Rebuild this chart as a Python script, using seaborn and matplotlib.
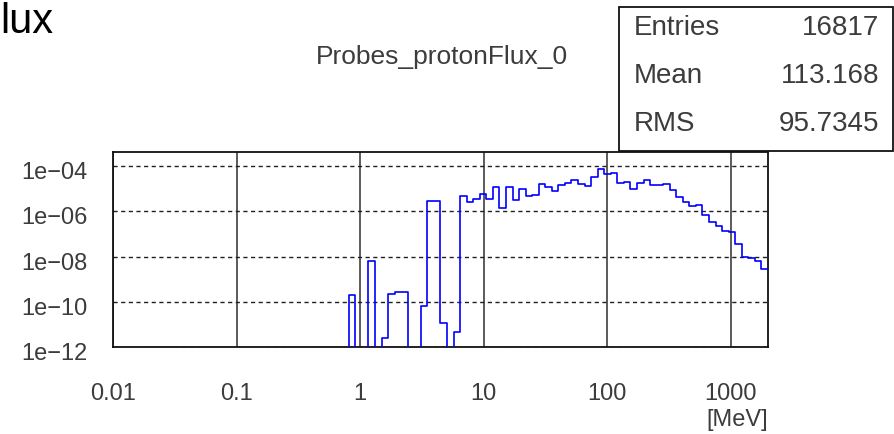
import numpy as np
import pandas as pd
import matplotlib
matplotlib.use("Agg")
import matplotlib.pyplot as plt
import matplotlib.transforms as mtransforms
import seaborn as sns
from matplotlib.patches import Rectangle

# histogram binning (log spaced)
e_min, e_max, n_bins = 0.01, 2000.0, 100

# bin contents, 0 = empty bin
flux = [0.0] * 36 + [
    1.9e-10, 0.0, 0.0, 6.3e-9, 0.0, 2.6e-12, 2.2e-10, 2.8e-10, 2.8e-10, 0.0,
    0.0, 6.6e-11, 2.9e-6, 2.9e-6, 1.1e-11, 0.0, 4.4e-12, 4.9e-6, 2.6e-6, 3.6e-6,
    5.6e-6, 3.5e-6, 1.2e-5, 1.4e-6, 1.2e-5, 3.2e-6, 9.8e-6, 4.9e-6, 5.2e-6, 1.55e-5,
    1.2e-5, 7.6e-6, 1.4e-5, 1.8e-5, 2.5e-5, 1.6e-5, 1.3e-5, 3.4e-5, 7.1e-5, 4.6e-5,
    5.2e-5, 1.7e-5, 2.0e-5, 1.0e-5, 1.8e-5, 2.4e-5, 1.45e-5, 1.45e-5, 1.6e-5, 9.1e-6,
    4.4e-6, 2.6e-6, 1.8e-6, 2.0e-6, 6.7e-7, 3.3e-7, 2.2e-7, 1.4e-7, 1.2e-7, 3.6e-8,
    9.3e-9, 8.3e-9, 6.6e-9, 2.7e-9,
]

x_ticks = [0.01, 0.1, 1, 10, 100, 1000]
x_labels = ["0.01", "0.1", "1", "10", "100", "1000"]
y_ticks = [1e-12, 1e-10, 1e-8, 1e-6, 1e-4]
y_labels = ["1e\u221212", "1e\u221210", "1e\u221208", "1e\u221206", "1e\u221204"]

stat_names = ["Entries", "Mean", "RMS"]
stat_values = ["16817", "113.168", "95.7345"]

hist_name = "Probes_protonFlux_0"

sns.set_style("white")
plt.rcParams["font.family"] = ["Liberation Sans", "DejaVu Sans"]
txt_col = "#3c3c3c"

W, H = 895, 434
fig = plt.figure(figsize=(W / 100, H / 100), dpi=100)
ax = fig.add_axes([113 / W, 1 - 347 / H, (768 - 113) / W, (347 - 152) / H])

edges = np.logspace(np.log10(e_min), np.log10(e_max), n_bins + 1)
df = pd.DataFrame({"E": edges, "flux": flux + [flux[-1]]})
sns.lineplot(data=df, x="E", y="flux", drawstyle="steps-post", color="#0000ff",
             lw=1.2, sort=False, estimator=None, ax=ax, zorder=3)

ax.set_xscale("log")
ax.set_yscale("log")
ax.set_xlim(e_min, e_max)
ax.set_ylim(1e-12, 4.2e-4)
ax.set_xticks(x_ticks)
ax.set_xticklabels(x_labels)
ax.set_yticks(y_ticks)
ax.set_yticklabels(y_labels)
ax.minorticks_off()
ax.set_xlabel("")
ax.set_ylabel("")
ax.tick_params(length=0, labelsize=17, labelcolor=txt_col)
ax.tick_params(axis="x", pad=26)
ax.tick_params(axis="y", pad=18.5)
# ROOT puts the y labels a little below their grid line
shift = mtransforms.ScaledTranslation(0, -0.045, fig.dpi_scale_trans)
for lab in ax.get_yticklabels():
    lab.set_transform(lab.get_transform() + shift)

ax.grid(False)
ax.xaxis.grid(True, color="#404040", lw=1.2, ls="-")
ax.yaxis.grid(True, color="#202020", lw=1.0, ls=(0, (3, 2.5)))
ax.set_axisbelow(True)
for s in ax.spines.values():
    s.set_color("#111111")
    s.set_linewidth(1.3)

fig.text(768 / W, 1 - 420 / H, "[MeV]", ha="right", va="center", fontsize=17, color=txt_col)
fig.text(442 / W, 1 - 57 / H, hist_name, ha="center", va="center", fontsize=19, color=txt_col)
fig.text(0, 1 - 22 / H, "lux", ha="left", va="center", fontsize=30, color="black")

# stats box
box = Rectangle((619 / W, 1 - 151 / H), (893 - 619) / W, (151 - 7) / H,
                transform=fig.transFigure, facecolor="white", edgecolor="#111111", lw=1.3, zorder=5)
fig.add_artist(box)
for i, (n, v) in enumerate(zip(stat_names, stat_values)):
    yy = 1 - (28 + 48 * i) / H
    fig.text(634 / W, yy, n, ha="left", va="center", fontsize=20, color=txt_col, zorder=6)
    fig.text(879 / W, yy, v, ha="right", va="center", fontsize=20, color=txt_col, zorder=6)

fig.savefig("out.png", dpi=100)
